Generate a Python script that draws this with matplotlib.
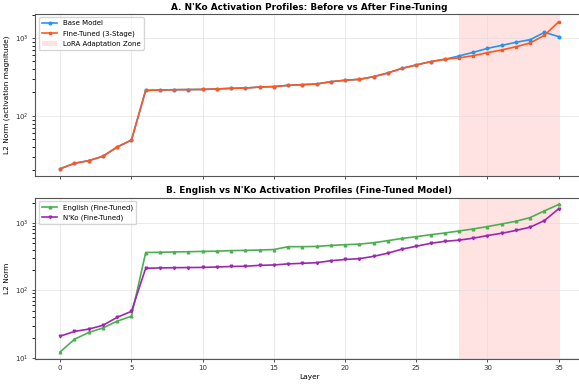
import matplotlib
matplotlib.use("Agg")
import matplotlib.pyplot as plt
import numpy as np

layers = list(range(36))

# N'Ko activation norms
base_nko = [21, 24.7, 26.7, 30.4, 40, 49, 213, 215, 217, 218, 219, 222, 226, 228, 235, 238,
            247, 252, 257, 275, 287, 295, 319, 356, 408, 451, 497, 533, 588, 655, 736, 805,
            880, 952, 1183, 1040]
ft_nko = [21, 24.7, 26.7, 30.4, 40, 49, 213, 215, 217, 218, 219, 222, 226, 228, 235, 238,
          247, 252, 257, 275, 287, 295, 319, 356, 408, 451, 497, 533, 555, 593, 649, 702,
          773, 863, 1084, 1617]
ft_english = [12.3, 18.9, 23.8, 27.8, 35, 41.5, 364, 367, 371, 374, 378, 381, 388, 392, 396, 403,
              444, 444, 448, 464, 475, 485, 508, 545, 589, 624, 668, 708, 759, 813, 881, 964,
              1057, 1199, 1506, 1872]

lora_start, lora_end = 28, 35

fig = plt.figure(figsize=(5.79, 3.85), dpi=100)
ax1 = fig.add_axes([0.061, 0.543, 0.947, 0.421])
ax2 = fig.add_axes([0.061, 0.068, 0.947, 0.419], sharex=ax1)

blue = "#2196F3"
orange = "#FF5722"
green = "#4CAF50"
purple = "#9C27B0"

ax1.plot(layers, base_nko, "-o", color=blue, lw=1.2, ms=1.9, label="Base Model")
ax1.plot(layers, ft_nko, "-s", color=orange, lw=1.2, ms=1.9, label="Fine-Tuned (3-Stage)")
ax1.axvspan(lora_start, lora_end, color="#FF9999", alpha=0.28, lw=0, label="LoRA Adaptation Zone")
ax1.set_yscale("log")
ax1.set_ylim(17, 2040)
ax1.set_ylabel("L2 Norm (activation magnitude)", fontsize=5.3)
ax1.set_title("A. N'Ko Activation Profiles: Before vs After Fine-Tuning", fontsize=6.4, fontweight="bold", pad=3)
ax1.legend(loc="upper left", fontsize=5, frameon=True, borderpad=0.45, labelspacing=0.55, handlelength=2.2)
plt.setp(ax1.get_xticklabels(), visible=False)

ax2.plot(layers, ft_english, "-^", color=green, lw=1.2, ms=1.9, label="English (Fine-Tuned)")
ax2.plot(layers, ft_nko, "-v", color=purple, lw=1.2, ms=1.9, label="N'Ko (Fine-Tuned)")
ax2.axvspan(lora_start, lora_end, color="#FF9999", alpha=0.28, lw=0)
ax2.set_yscale("log")
ax2.set_ylim(9.7, 2375)
ax2.set_ylabel("L2 Norm", fontsize=5.3)
ax2.set_xlabel("Layer", fontsize=5.3, labelpad=2)
ax2.set_title("B. English vs N'Ko Activation Profiles (Fine-Tuned Model)", fontsize=6.4, fontweight="bold", pad=3)
ax2.legend(loc="upper left", fontsize=5, frameon=True, borderpad=0.45, labelspacing=0.55, handlelength=2.2)

ax1.set_xlim(-1.75, 36.75)
ax2.set_xticks([0, 5, 10, 15, 20, 25, 30, 35])

for ax in (ax1, ax2):
    ax.grid(True, color="#dddddd", lw=0.6, alpha=0.7)
    ax.tick_params(labelsize=5, length=2.5, width=0.6, pad=2, colors="#333333")
    for sp in ax.spines.values():
        sp.set_color("#555555")
        sp.set_linewidth(0.8)

fig.savefig("out.png", dpi=100)
